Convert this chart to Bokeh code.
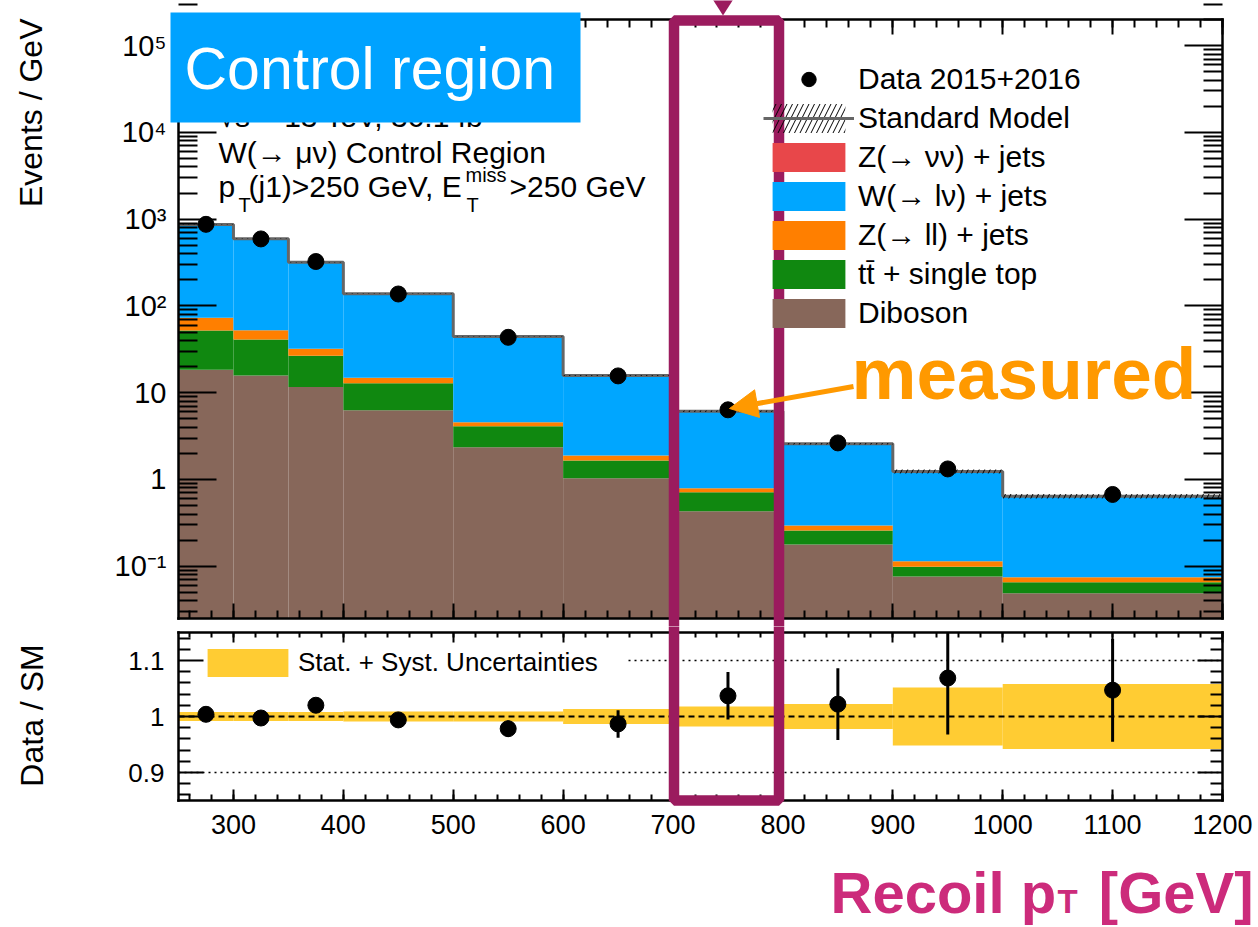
import math

from bokeh.plotting import figure
from bokeh.layouts import column
from bokeh.models import (ColumnDataSource, Range1d, FixedTicker, SingleIntervalTicker,
                          LinearAxis, LogAxis, CustomJSTickFormatter,
                          Legend, LegendItem, Label, BoxAnnotation, PolyAnnotation, Arrow,
                          NormalHead)
from bokeh.embed import file_html
from bokeh.resources import INLINE

# ---------------------------------------------------------------- data
# Recoil pT binning [GeV]
bin_edges = [250, 300, 350, 400, 500, 600, 700, 800, 900, 1000, 1200]

# Background predictions, events / GeV (stacked bottom to top)
diboson = [18.4, 15.8, 11.6, 6.29, 2.36, 1.035, 0.431, 0.178, 0.076, 0.049]
ttbar_single_top = [33.7, 25.3, 15.0, 6.6, 1.75, 0.62, 0.283, 0.080, 0.023, 0.0166]
z_ll_jets = [21.0, 11.5, 5.5, 2.0, 0.46, 0.235, 0.080, 0.037, 0.015, 0.0092]
w_lnu_jets = [794, 540, 286, 123, 39.8, 13.9, 5.31, 2.28, 1.12, 0.565]
z_nunu_jets = [1.5, 1.0, 0.5, 0.25, 0.1, 0.04, 0.02, 0.008, 0.004, 0.002]

# Observed data, events / GeV, and its uncertainty
data_2015_2016 = [872, 592, 325, 137.3, 43.5, 15.62, 6.35, 2.64, 1.323, 0.672]
data_err = [4.2, 3.5, 2.5, 1.2, 0.66, 0.39, 0.26, 0.165, 0.125, 0.059]

# Relative stat. + syst. uncertainty on the SM prediction
sm_rel_unc = [0.008, 0.008, 0.008, 0.009, 0.009, 0.0135, 0.018, 0.0225, 0.052, 0.058]

# Tick labels
y_tick_values = [1e-1, 1.0, 10.0, 1e2, 1e3, 1e4, 1e5]
y_tick_labels = ["10⁻¹", "1", "10", "10²", "10³", "10⁴", "10⁵"]
ratio_tick_values = [0.9, 1.0, 1.1]
ratio_tick_labels = ["0.9", "1", "1.1"]

# ---------------------------------------------------------------- style
FONT = "Liberation Sans"
C_DIB = "#87675A"
C_TT = "#108810"
C_ZLL = "#FF7F00"
C_W = "#00A6FF"
C_ZNN = "#E8474A"
C_BAND = "#FFCC33"
C_BOX = "#9B1B5E"
C_TITLE = "#CC2B7B"
C_MEAS = "#FF9900"
C_CR = "#00A2FF"

# page geometry (pixels); each figure's frame fills its whole canvas and the
# panel boxes are drawn by axes pinned at the range limits
FIG_W = 1258
TOP_H = 626          # main panel canvas: page rows 0 .. 626
RAT_H = 300          # ratio panel canvas: page rows 626 .. 926
FRAME_L, FRAME_R = 178, 1222
X0, X1 = 250, 1200
Y0, Y1 = 0.025, 2.0e5
TOP_T, TOP_B = 19, 618
R0, R1 = 0.85, 1.15
RAT_T, RAT_B = 632, 800


def gx(px):
    """Page pixel column -> recoil value."""
    return X0 + (px - FRAME_L) * (X1 - X0) / (FRAME_R - FRAME_L)


def gy(py):
    """Page pixel row -> events/GeV on the log axis."""
    t = (TOP_B - py) / (TOP_B - TOP_T)
    return 10 ** (math.log10(Y0) + t * (math.log10(Y1) - math.log10(Y0)))


def gr(py):
    """Page pixel row -> Data/SM value."""
    return R0 + (RAT_B - py) / (RAT_B - RAT_T) * (R1 - R0)


n = len(diboson)
lefts = bin_edges[:-1]
rights = bin_edges[1:]
centers = [(a + b) / 2 for a, b in zip(lefts, rights)]
sm_total = [a + b + c + d + e for a, b, c, d, e in
            zip(diboson, ttbar_single_top, z_ll_jets, w_lnu_jets, z_nunu_jets)]


def make_axis(cls, ticker, loc, bounds, major_in, minor_in, font_size=None, standoff=12):
    ax = cls(ticker=ticker, fixed_location=loc, bounds=bounds)
    ax.axis_line_color = "black"
    ax.axis_line_width = 2.5
    ax.axis_line_cap = "square"
    ax.major_tick_in = major_in
    ax.major_tick_out = 0
    ax.minor_tick_in = minor_in
    ax.minor_tick_out = 0
    ax.major_tick_line_width = 2
    ax.minor_tick_line_width = 2
    ax.major_tick_line_color = "black"
    ax.minor_tick_line_color = "black"
    if font_size is None:
        ax.formatter = CustomJSTickFormatter(code="return ''")
        ax.major_label_text_font_size = "1px"
        ax.major_label_standoff = 0
    else:
        ax.major_label_text_font = FONT
        ax.major_label_text_font_size = font_size
        ax.major_label_text_color = "black"
        ax.major_label_standoff = standoff
    return ax


def text(fig, txt, x, y, size, color="black", bold=False, align="left", angle=0.0):
    fig.add_layout(Label(x=x, y=y, text=txt, text_font=FONT, text_font_size=size,
                         text_font_style="bold" if bold else "normal", text_color=color,
                         text_align=align, text_baseline="middle", angle=angle))


x_range = Range1d(gx(0), gx(FIG_W))
x_ticker = SingleIntervalTicker(interval=100, num_minor_ticks=5)

# ---------------------------------------------------------------- main panel
p = figure(width=FIG_W, height=TOP_H, x_range=x_range,
           y_range=Range1d(gy(TOP_H), gy(0)), y_axis_type="log",
           x_axis_location=None, y_axis_location=None,
           output_backend="svg", toolbar_location=None,
           min_border=0, min_border_left=0, min_border_right=0,
           min_border_top=0, min_border_bottom=0)
p.grid.visible = False
p.outline_line_color = None
p.background_fill_color = "white"
p.border_fill_color = "white"

log_minor = [m * 10 ** k for k in range(-2, 6) for m in range(2, 10)]
log_ticker = FixedTicker(ticks=y_tick_values, minor_ticks=log_minor)

y_left = make_axis(LogAxis, log_ticker, X0, (Y0, Y1), 38, 19, "29px", 12)
y_left.major_label_overrides = dict(zip(y_tick_values, y_tick_labels))
p.add_layout(y_left, "left")
p.add_layout(make_axis(LogAxis, log_ticker, X1, (Y0, Y1), 38, 19), "right")
p.add_layout(make_axis(LinearAxis, x_ticker, Y0, (X0, X1), 15, 8), "below")
p.add_layout(make_axis(LinearAxis, x_ticker, Y1, (X0, X1), 15, 8), "above")

# stacked backgrounds
stack = [("Diboson", diboson, C_DIB),
         ("tt̄ + single top", ttbar_single_top, C_TT),
         ("Z(→ ll) + jets", z_ll_jets, C_ZLL),
         ("W(→ lν) + jets", w_lnu_jets, C_W),
         ("Z(→ νν) + jets", z_nunu_jets, C_ZNN)]
stack_r = {}
running = [0.0] * n
for name, vals, col in stack:
    tops = [a + b for a, b in zip(running, vals)]
    bottoms = [max(a, Y0) for a in running]
    src = ColumnDataSource(dict(left=lefts, right=rights, bottom=bottoms, top=tops))
    stack_r[name] = p.quad(left="left", right="right", bottom="bottom", top="top",
                           source=src, fill_color=col, line_color=None, level="underlay")
    running = tops

# SM uncertainty (hatched) and total line
band_src = ColumnDataSource(dict(
    left=lefts, right=rights,
    bottom=[t * (1 - u) for t, u in zip(sm_total, sm_rel_unc)],
    top=[t * (1 + u) for t, u in zip(sm_total, sm_rel_unc)]))
sm_line = p.step(x=bin_edges, y=sm_total + [sm_total[-1]], mode="after",
                 line_color="#666666", line_width=3)
sm_hatch = p.quad(left="left", right="right", bottom="bottom", top="top", source=band_src,
                  fill_color=None, line_color=None, hatch_pattern="/",
                  hatch_color="black", hatch_scale=11, hatch_weight=1)

# data
dsrc = ColumnDataSource(dict(x=centers, y=data_2015_2016,
                             lo=[d - e for d, e in zip(data_2015_2016, data_err)],
                             hi=[d + e for d, e in zip(data_2015_2016, data_err)]))
p.segment(x0="x", y0="lo", x1="x", y1="hi", source=dsrc, line_color="black", line_width=3)
data_r = p.scatter(x="x", y="y", source=dsrc, marker="circle", size=16,
                   fill_color="black", line_color="black")

legend = Legend(items=[
    LegendItem(label="Data 2015+2016", renderers=[data_r]),
    LegendItem(label="Standard Model", renderers=[sm_hatch, sm_line]),
    LegendItem(label="Z(→ νν) + jets", renderers=[stack_r["Z(→ νν) + jets"]]),
    LegendItem(label="W(→ lν) + jets", renderers=[stack_r["W(→ lν) + jets"]]),
    LegendItem(label="Z(→ ll) + jets", renderers=[stack_r["Z(→ ll) + jets"]]),
    LegendItem(label="tt̄ + single top", renderers=[stack_r["tt̄ + single top"]]),
    LegendItem(label="Diboson", renderers=[stack_r["Diboson"]]),
], location=(763, TOP_H - 331), glyph_width=91, glyph_height=36, spacing=3,
    padding=0, margin=0, label_standoff=4, border_line_color=None,
    background_fill_alpha=0, label_text_font=FONT, label_text_font_size="30px",
    label_text_color="black")
p.add_layout(legend)

# analysis description
text(p, "√s = 13 TeV, 36.1 fb⁻¹", gx(218), gy(116), "30px")
text(p, "W(→ μν) Control Region", gx(218), gy(152), "30px")
for txt, px, py, fs in [("p", 218, 186, "30px"), ("T", 238, 204, "20px"),
                        ("(j1)>250 GeV, E", 248, 186, "30px"), ("T", 466, 204, "20px"),
                        ("miss", 465, 174, "20px"), (">250 GeV", 509, 186, "30px")]:
    text(p, txt, gx(px), gy(py), fs)

# region tag
p.add_layout(BoxAnnotation(left=gx(170), right=gx(580), top=gy(12), bottom=gy(122),
                           fill_color=C_CR, fill_alpha=1, line_color=None))
text(p, "Control region", gx(184), gy(68), "59px", color="white")

# highlighted bin
p.add_layout(BoxAnnotation(left=gx(673.5), right=gx(778.5), top=gy(20), bottom=gy(700),
                           fill_alpha=0, line_color=C_BOX, line_alpha=1, line_width=10.5))
p.add_layout(PolyAnnotation(xs=[gx(711), gx(734), gx(722.5)], ys=[gy(-3), gy(-3), gy(15)],
                            fill_color=C_BOX, fill_alpha=1, line_color=None))

text(p, "measured", gx(851), gy(373), "73px", color=C_MEAS, bold=True)
p.add_layout(Arrow(x_start=gx(853), y_start=gy(386), x_end=gx(729), y_end=gy(408),
                   line_color=C_MEAS, line_width=5,
                   end=NormalHead(size=28, fill_color=C_MEAS, line_color=C_MEAS)))

text(p, "Events / GeV", gx(30), gy(18), "32px", align="right", angle=math.pi / 2)

# ---------------------------------------------------------------- ratio panel
ratio = [d / s for d, s in zip(data_2015_2016, sm_total)]
ratio_err = [e / s for e, s in zip(data_err, sm_total)]

r = figure(width=FIG_W, height=RAT_H, x_range=x_range,
           y_range=Range1d(gr(TOP_H + RAT_H), gr(TOP_H)),
           x_axis_location=None, y_axis_location=None,
           output_backend="svg", toolbar_location=None,
           min_border=0, min_border_left=0, min_border_right=0,
           min_border_top=0, min_border_bottom=0)
r.grid.visible = False
r.outline_line_color = None
r.background_fill_color = "white"
r.border_fill_color = "white"

ratio_minor = [0.86, 0.88, 0.92, 0.94, 0.96, 0.98, 1.02, 1.04, 1.06, 1.08, 1.12, 1.14]
ratio_ticker = FixedTicker(ticks=ratio_tick_values, minor_ticks=ratio_minor)
r_left = make_axis(LinearAxis, ratio_ticker, X0, (R0, R1), 25, 12, "26px", 14)
r_left.major_label_overrides = dict(zip(ratio_tick_values, ratio_tick_labels))
r.add_layout(r_left, "left")
r.add_layout(make_axis(LinearAxis, ratio_ticker, X1, (R0, R1), 25, 12), "right")
r.add_layout(make_axis(LinearAxis, x_ticker, R0, (X0, X1), 11, 6, "27px", 14), "below")
r.add_layout(make_axis(LinearAxis, x_ticker, R1, (X0, X1), 10, 5), "above")

rband_src = ColumnDataSource(dict(left=lefts, right=rights,
                                  bottom=[1 - u for u in sm_rel_unc],
                                  top=[1 + u for u in sm_rel_unc]))
band_r = r.quad(left="left", right="right", bottom="bottom", top="top", source=rband_src,
                fill_color=C_BAND, line_color=None, level="underlay")

r.line(x=[X0, X1], y=[1.0, 1.0], line_color="black", line_width=2, line_dash="6 4")
r.line(x=[X0, X1], y=[0.9, 0.9], line_color="black", line_width=1.5, line_dash="2 4")
r.line(x=[gx(628), X1], y=[1.1, 1.1], line_color="black", line_width=1.5, line_dash="2 4")

# error bars are cut at the panel edges
rsrc = ColumnDataSource(dict(x=centers, y=ratio,
                             lo=[max(a - b, R0) for a, b in zip(ratio, ratio_err)],
                             hi=[min(a + b, R1) for a, b in zip(ratio, ratio_err)]))
r.segment(x0="x", y0="lo", x1="x", y1="hi", source=rsrc, line_color="black", line_width=3)
r.scatter(x="x", y="y", source=rsrc, marker="circle", size=16,
          fill_color="black", line_color="black")

r.add_layout(Legend(items=[LegendItem(label="Stat. + Syst. Uncertainties",
                                      renderers=[band_r])],
                    location=(197, TOP_H + RAT_H - 680), glyph_width=101, glyph_height=35,
                    padding=0, margin=0, label_standoff=0, border_line_color=None,
                    background_fill_alpha=0, label_text_font=FONT,
                    label_text_font_size="26px", label_text_color="black"))

text(r, "Data / SM", gx(31), gr(715), "32px", align="center", angle=math.pi / 2)

# axis title
text(r, "Recoil p", gx(830), gr(892), "58px", color=C_TITLE, bold=True)
text(r, "T", gx(1057), gr(901), "33px", color=C_TITLE, bold=True)
text(r, "[GeV]", gx(1253), gr(892), "58px", color=C_TITLE, bold=True, align="right")

r.add_layout(BoxAnnotation(left=gx(673.5), right=gx(778.5), top=gr(560), bottom=gr(800),
                           fill_alpha=0, line_color=C_BOX, line_alpha=1, line_width=10.5))

layout = column(p, r, spacing=0)
open("out.html", "w").write(file_html(layout, INLINE))
